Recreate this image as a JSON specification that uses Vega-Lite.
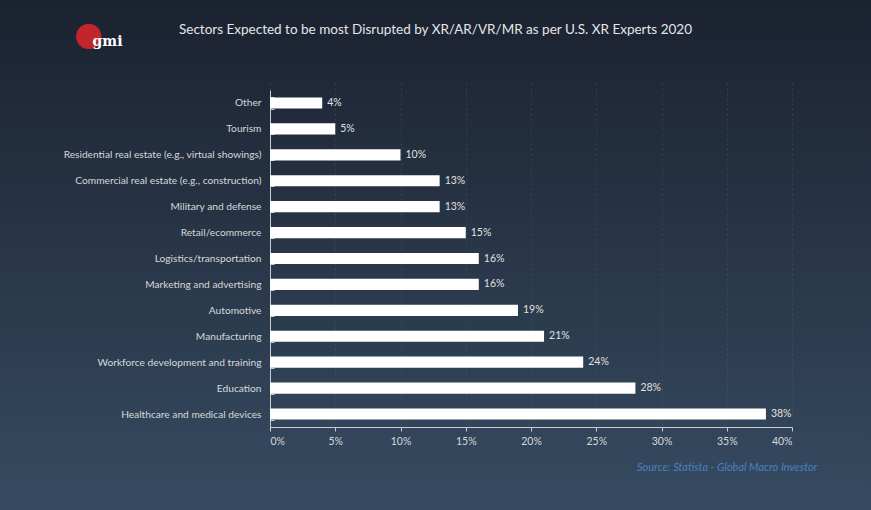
{
  "$schema": "https://vega.github.io/schema/vega-lite/v6.json",
  "width": 871,
  "height": 510,
  "autosize": "none",
  "padding": 0,
  "background": "#28364a",
  "title": {
    "text": "Sectors Expected to be most Disrupted by XR/AR/VR/MR as per U.S. XR Experts 2020",
    "anchor": "middle",
    "frame": "group",
    "offset": -41,
    "font": "Lato",
    "fontSize": 13.5,
    "fontWeight": "normal",
    "color": "#e6e6e6"
  },
  "config": {
    "view": {
      "stroke": null,
      "fill": {
        "gradient": "linear",
        "x1": 0, "y1": 0, "x2": 0, "y2": 1,
        "stops": [
          {"offset": 0, "color": "#1b2230"},
          {"offset": 1, "color": "#364b61"}
        ]
      }
    },
    "axis": {"labelFont": "Lato", "titleFont": "Lato"}
  },
  "datasets": {
    "sectors": [
      {"sector": "Other", "pct": 4},
      {"sector": "Tourism", "pct": 5},
      {"sector": "Residential real estate (e.g., virtual showings)", "pct": 10},
      {"sector": "Commercial real estate (e.g., construction)", "pct": 13},
      {"sector": "Military and defense", "pct": 13},
      {"sector": "Retail/ecommerce", "pct": 15},
      {"sector": "Logistics/transportation", "pct": 16},
      {"sector": "Marketing and advertising", "pct": 16},
      {"sector": "Automotive", "pct": 19},
      {"sector": "Manufacturing", "pct": 21},
      {"sector": "Workforce development and training", "pct": 24},
      {"sector": "Education", "pct": 28},
      {"sector": "Healthcare and medical devices", "pct": 38}
    ]
  },
  "layer": [
    {
      "data": {"name": "sectors"},
      "mark": {"type": "bar", "color": "#ffffff"},
      "encoding": {
        "y": {
          "field": "sector",
          "type": "nominal",
          "sort": null,
          "scale": {"range": [90, 427], "paddingInner": 0.57, "paddingOuter": 0.285},
          "axis": {
            "orient": "left",
            "offset": -270,
            "title": "●",
            "titleFont": "DejaVu Sans",
            "titleFontSize": 33,
            "titleFontWeight": "normal",
            "titleColor": "#c0262c",
            "titleAngle": 0,
            "titleX": -182,
            "titleY": 34,
            "titleAlign": "center",
            "titleBaseline": "middle",
            "domainColor": "#c9ced4",
            "tickColor": "#c9ced4",
            "tickSize": -4,
            "tickBand": "extent",
            "labelColor": "#d6d8da",
            "labelFontSize": 10.2,
            "labelPadding": 13,
            "labelLimit": 300
          }
        },
        "x": {
          "field": "pct",
          "type": "quantitative",
          "scale": {"domain": [0, 40], "range": [270, 792], "nice": false, "zero": true},
          "axis": {
            "orient": "bottom",
            "offset": -83,
            "values": [0, 5, 10, 15, 20, 25, 30, 35, 40],
            "labelExpr": "datum.value + '%'",
            "domainColor": "#c9ced4",
            "tickColor": "#c9ced4",
            "tickSize": 4,
            "labelColor": "#d6d8da",
            "labelFontSize": 10.5,
            "labelPadding": 5,
            "grid": true,
            "gridColor": "#5a6a7c",
            "gridOpacity": 0.35,
            "gridDash": [2, 3],
            "title": "Source: Statista  - Global Macro Investor",
            "titleColor": "#4a80c2",
            "titleFontStyle": "italic",
            "titleFontWeight": "normal",
            "titleFontSize": 11,
            "titleX": 817,
            "titleY": 40,
            "titleAlign": "right",
            "titleAnchor": null,
            "titleBaseline": "middle"
          }
        }
      }
    },
    {
      "data": {"name": "sectors"},
      "mark": {"type": "text", "align": "left", "baseline": "middle", "dx": 5, "font": "Lato", "fontSize": 10.5, "color": "#e0e0e0"},
      "encoding": {
        "y": {
          "field": "sector",
          "type": "nominal",
          "sort": null,
          "axis": {
            "orient": "left",
            "offset": -270,
            "domain": false,
            "ticks": false,
            "labels": false,
            "grid": false,
            "title": "gmi",
            "titleFont": "DejaVu Serif",
            "titleFontSize": 14,
            "titleFontWeight": "bold",
            "titleColor": "#ffffff",
            "titleAngle": 0,
            "titleX": -163,
            "titleY": 41,
            "titleAlign": "center",
            "titleBaseline": "middle"
          }
        },
        "x": {"field": "pct", "type": "quantitative"},
        "text": {"field": "label", "type": "nominal"}
      },
      "transform": [{"calculate": "datum.pct + '%'", "as": "label"}]
    }
  ],
  "resolve": {"axis": {"y": "independent"}}
}
